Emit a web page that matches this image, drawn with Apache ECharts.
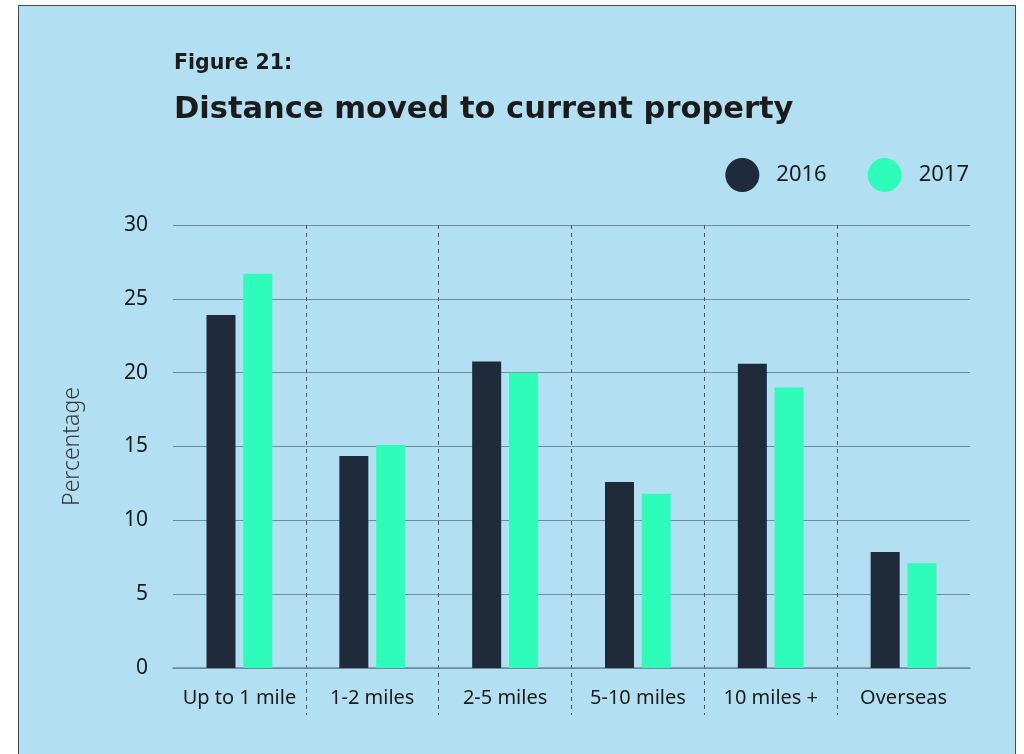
<!DOCTYPE html>
<html>
<head>
<meta charset="utf-8">
<script src="https://cdn.jsdelivr.net/npm/echarts@6/dist/echarts.min.js"></script>
<style>
  html, body { margin: 0; padding: 0; background: #ffffff; }
  #box {
    position: absolute; left: 18px; top: 5px; width: 996px; height: 760px;
    background: #b3dff2; border: 1px solid #4a4a4a;
  }
  #chart { position: absolute; left: 0; top: 0; width: 1024px; height: 754px; }
</style>
</head>
<body>
<div id="box"></div>
<div id="chart"></div>
<script>
// Distance moved, percentage of movers
const categories = ['Up to 1 mile', '1-2 miles', '2-5 miles', '5-10 miles', '10 miles +', 'Overseas'];
const values2016 = [23.9, 14.35, 20.75, 12.6, 20.6, 7.85];
const values2017 = [26.7, 15.1, 20.0, 11.8, 19.0, 7.1];
const yTicks = [0, 5, 10, 15, 20, 25, 30];

const textColor = '#1b1b1b';
const font = '"Noto Sans", sans-serif';
const titleFont = '"DejaVu Sans", sans-serif';

document.addEventListener('DOMContentLoaded', () => {
  const chart = echarts.init(document.getElementById('chart'), null, { renderer: 'canvas' });

  chart.setOption({
    backgroundColor: 'transparent',
    textStyle: { fontFamily: font, color: textColor },
    title: [{
      text: 'Figure 21:',
      left: 169, top: 48,
      textStyle: { fontSize: 20.5, fontWeight: 'bold', color: textColor, fontFamily: titleFont }
    }, {
      text: 'Distance moved to current property',
      left: 169, top: 90,
      textStyle: { fontSize: 30.5, fontWeight: 'bold', color: textColor, fontFamily: titleFont }
    }],
    legend: {
      right: 50, top: 153,
      icon: 'circle',
      itemWidth: 34, itemHeight: 34,
      itemGap: 41,
      textStyle: { fontSize: 22, color: textColor, fontFamily: font, padding: [0, 0, 0, 12] },
      data: ['2016', '2017']
    },
    grid: [
      { left: 173, right: 54, top: 225, bottom: 86 },
      { left: 173, right: 54, top: 225, bottom: 39 }
    ],
    xAxis: [{
      type: 'category',
      gridIndex: 0,
      data: categories,
      axisLine: { lineStyle: { color: '#6f8c9e', width: 1.5 } },
      axisTick: { show: false },
      axisLabel: { interval: 0, fontSize: 20, color: textColor, margin: 20, fontFamily: font }
    }, {
      // category separators
      type: 'value',
      gridIndex: 1,
      min: 0, max: categories.length, interval: 1,
      axisLine: { show: false },
      axisTick: { show: false },
      axisLabel: { show: false },
      splitLine: {
        show: true, showMinLine: false, showMaxLine: false,
        lineStyle: { color: '#4d5863', type: [4, 4], width: 1 }
      }
    }],
    yAxis: [{
      type: 'value',
      gridIndex: 0,
      min: yTicks[0], max: yTicks[yTicks.length - 1], interval: 5,
      name: 'Percentage',
      nameLocation: 'middle',
      nameGap: 89,
      nameTextStyle: { fontSize: 23, color: '#3a3a3a', fontWeight: 300, fontFamily: font },
      axisLine: { show: false },
      axisTick: { show: false },
      axisLabel: { fontSize: 21, color: textColor, margin: 25, fontFamily: font },
      splitLine: { lineStyle: { color: '#6f8c9e', width: 1 } }
    }, {
      type: 'value',
      gridIndex: 1,
      min: 0, max: 1,
      show: false
    }],
    series: [{
      name: '2016',
      type: 'bar',
      data: values2016,
      barWidth: 29,
      barGap: '27%',
      itemStyle: { color: '#1f2a3a' }
    }, {
      name: '2017',
      type: 'bar',
      data: values2017,
      barWidth: 29,
      itemStyle: { color: '#2dfdb8' }
    }]
  });
});
</script>
</body>
</html>
